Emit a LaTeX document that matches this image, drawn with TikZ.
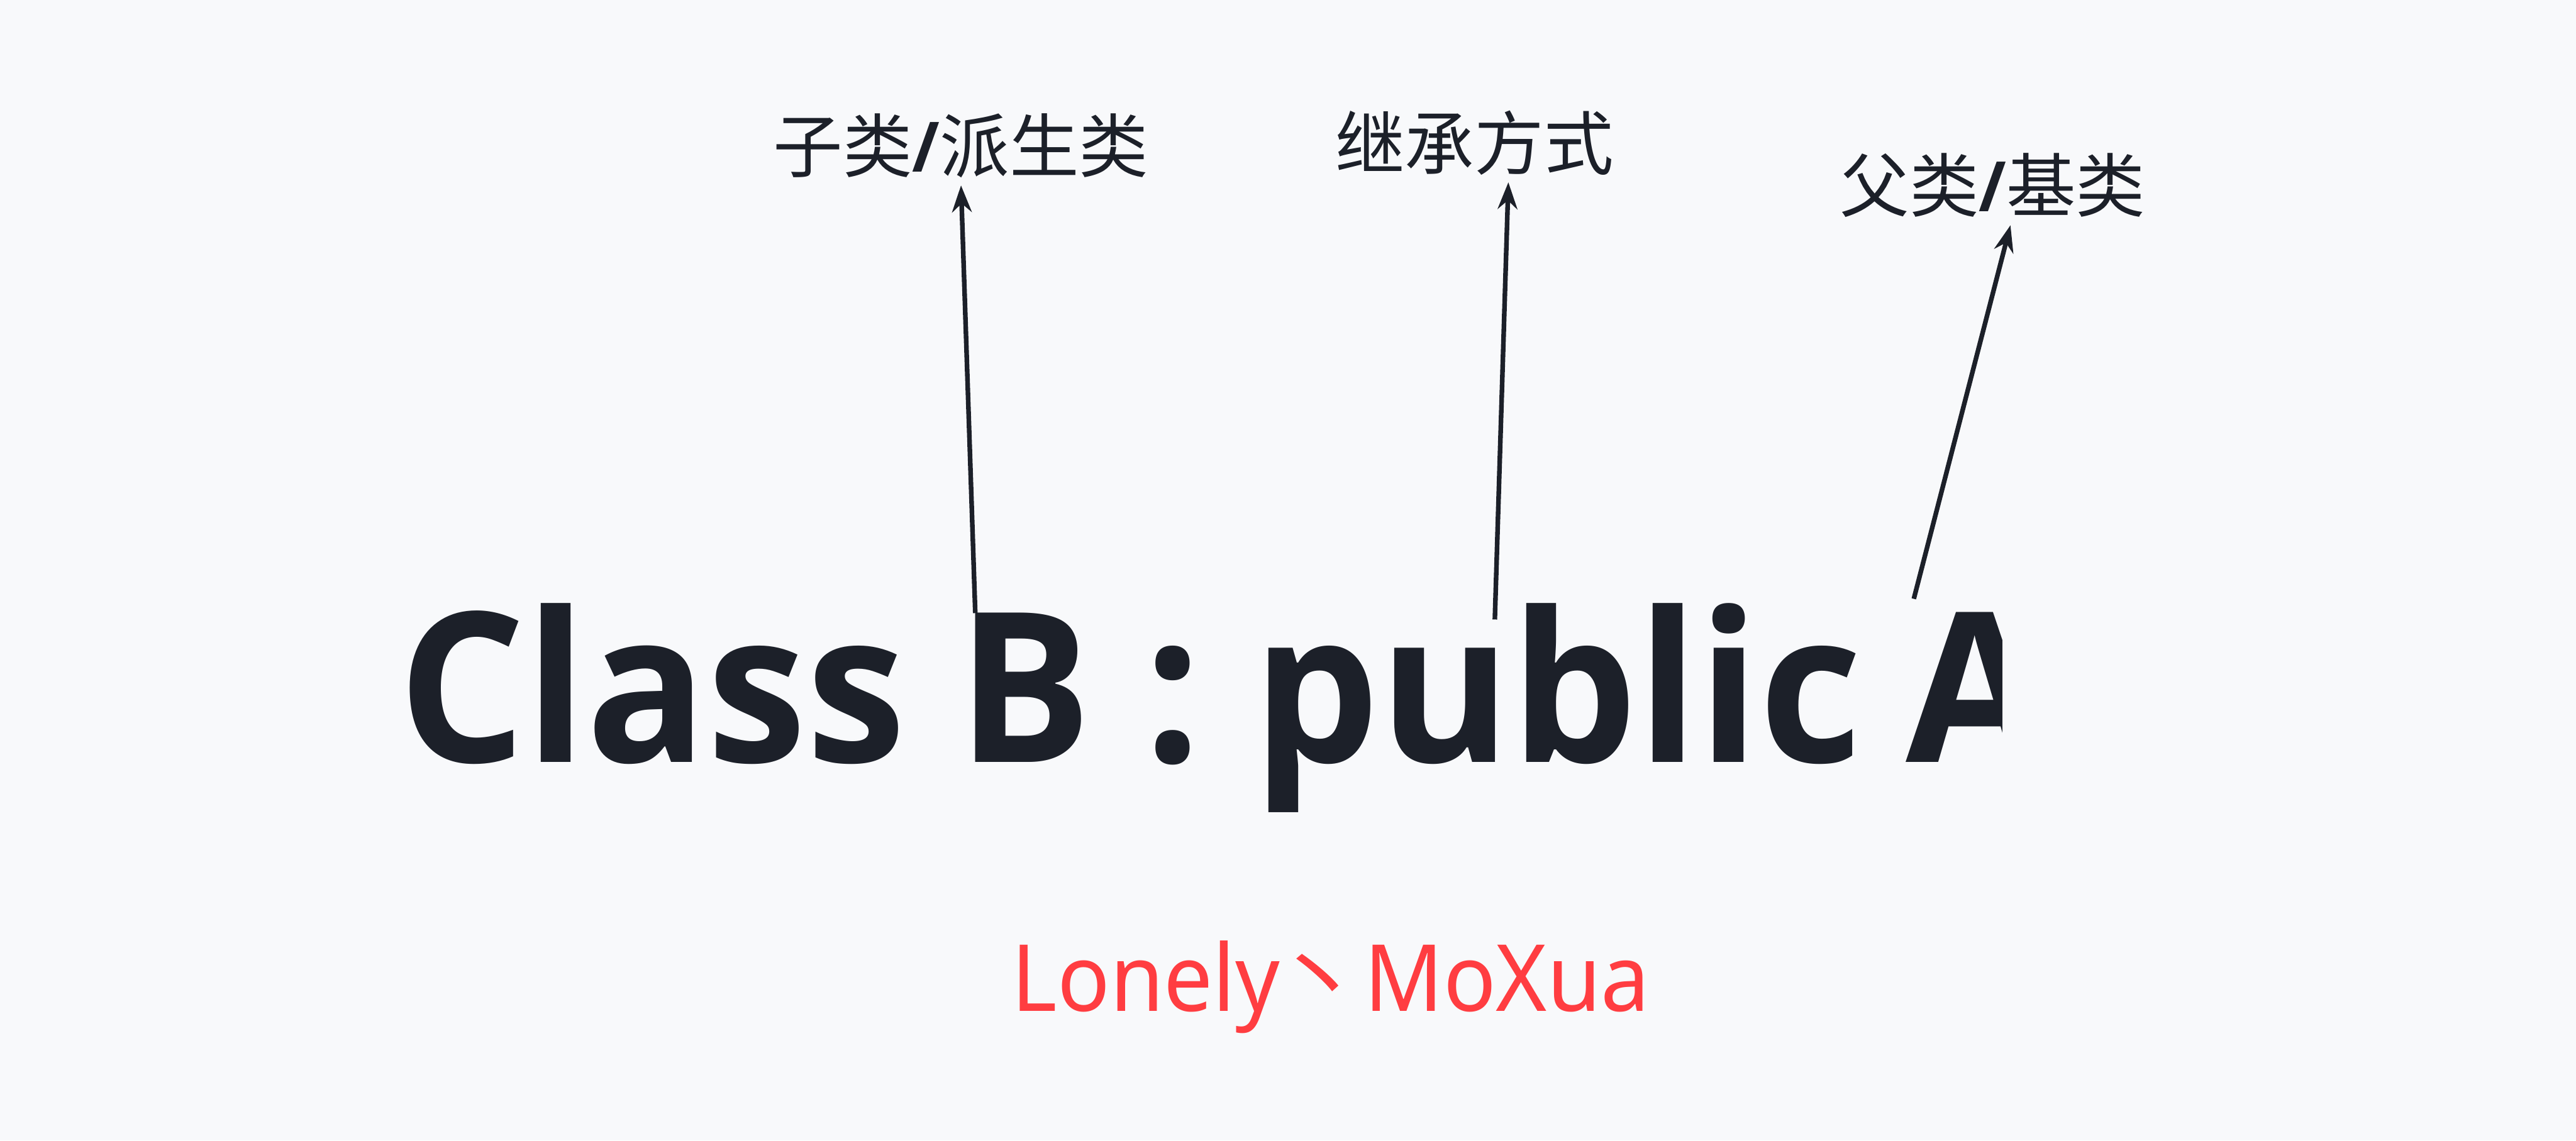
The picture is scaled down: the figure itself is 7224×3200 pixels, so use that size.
\documentclass[tikz,border=0pt]{standalone}
\usepackage{fontspec}
\setmainfont{Noto Sans}
\newfontfamily\cjk{Noto Sans CJK SC}
\newfontfamily\declfont{Open Sans}[FakeStretch=0.955]
\newfontfamily\signfont{Noto Sans}[FakeStretch=0.94]
\usepackage{xcolor}
\usetikzlibrary{arrows.meta, calc}
\definecolor{pagebg}{RGB}{248,249,251}
\definecolor{inkdark}{RGB}{28,32,41}
\definecolor{signred}{RGB}{255,61,65}
\tikzset{
  % testi
  note/.style={inner sep=0,text=inkdark,font=\cjk\fontsize{19.5}{23}\selectfont},
  decl/.style={inner sep=0,text=inkdark,font=\declfont\bfseries\fontsize{58.7}{70}\selectfont},
  sign/.style={inner sep=0,text=signred,font=\signfont\fontsize{26}{31}\selectfont},
  % frecce
  connect arrow/.style={-{Stealth[length=7.5pt,width=5.5pt]},line width=1.3pt,inkdark}
}
\begin{document}
\begin{tikzpicture}[x=0.1pt,y=-0.1pt]
  \useasboundingbox[fill=pagebg] (0,0) rectangle (7224,3200);
  \node[note] (sub) at (2695,409) {子类{\declfont\bfseries/}派生类};
  \node[note] (mode) at (4135,400) {继承方式};
  \node[note] (parent) at (5588,520) {父类{\declfont\bfseries/}基类};
  \begin{scope}
    \clip (0,0) rectangle (5615,3200);
    \node[decl,anchor=base west] (decl) at (1115,2139) {Class B : public\kern-2.2pt\ A};
  \end{scope}
  \node[sign,anchor=base west] (sign) at (2835,2837) {Lonely{\cjk\kern-2.3pt 丶}\kern-6.4pt\ MoXua};
  \coordinate (tailB) at (2735,1720);
  \coordinate (tailU) at (4192,1738);
  \coordinate (tailA) at (5367,1680);
  \draw[connect arrow] (tailB) -- ($(sub.south)+(0,19)$);
  \draw[connect arrow] (tailU) -- ($(mode.south)+(95,19)$);
  \draw[connect arrow] (tailA) -- ($(parent.south)+(50,20)$);
\end{tikzpicture}
\end{document}
